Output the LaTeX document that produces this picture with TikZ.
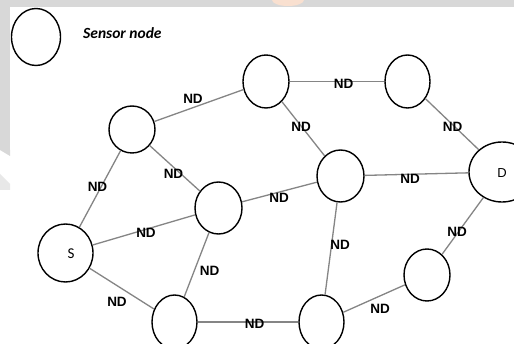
\documentclass[tikz,border=0pt]{standalone}
\usepackage{fontspec}
\setmainfont{Liberation Sans}
\newfontfamily\carlito{Carlito}
\usetikzlibrary{shapes.geometric}
\definecolor{edgegray}{HTML}{858585}
\definecolor{bandgray}{HTML}{D8D8D8}
\definecolor{peach}{HTML}{F9E0D0}
\begin{document}
\begin{tikzpicture}[x=1pt,y=-1pt,
  sensor/.style={draw=black, line width=1.4pt, ellipse, fill=white, inner sep=0pt},
  link/.style={draw=edgegray, line width=1.3pt},
  ndlabel/.style={font=\fontsize{13.5}{14}\selectfont\bfseries, inner sep=0pt, text=black}]
\useasboundingbox (0,0) rectangle (514,344);
\fill[white] (0,0) rectangle (514,344);
% background artefacts
\fill[bandgray] (0,0) rectangle (514,7.5);
\fill[bandgray] (0,0) rectangle (10,150);
\fill[bandgray] (0,150) -- (10,150) -- (10,156) -- cycle;
\fill[bandgray!60] (0,174) -- (10,184) -- (10,190) -- (0,190) -- cycle;
\begin{scope}
\clip (0,0) rectangle (514,7.5);
\fill[peach] (288,0) ellipse [x radius=16, y radius=6];
\end{scope}

% legend
\node[sensor, minimum width=49pt, minimum height=57pt] (leg) at (36,37) {};
\node[font=\carlito\fontsize{15.5}{16}\selectfont\bfseries\itshape, anchor=west, inner sep=0pt] (legtext) at (83,33) {Sensor node};

% nodes
\node[sensor, minimum width=55pt, minimum height=58pt] (S) at (65.5,253) {};
\node[font=\carlito\fontsize{15}{16}\selectfont, inner sep=0pt] (Slab) at (71,254) {S};
\node[sensor, minimum width=46pt, minimum height=47pt] (A) at (132,129.5) {};
\node[sensor, minimum width=46pt, minimum height=53pt] (B) at (266,81.5) {};
\node[sensor, minimum width=45pt, minimum height=53pt] (C) at (407.5,81.5) {};
\node[sensor, minimum width=66pt, minimum height=60pt] (D) at (502,172) {};
\node[font=\fontsize{13}{14}\selectfont, inner sep=0pt] (Dlab) at (502,173) {D};
\node[sensor, minimum width=47pt, minimum height=52pt] (E) at (340.5,176) {};
\node[sensor, minimum width=47pt, minimum height=52pt] (F) at (218.5,208) {};
\node[sensor, minimum width=45pt, minimum height=54pt] (G) at (174.5,322) {};
\node[sensor, minimum width=45pt, minimum height=54pt] (H) at (321.5,322) {};
\node[sensor, minimum width=46pt, minimum height=52pt] (I) at (427,275) {};

% connectors
\draw[link] (S) -- (A);
\draw[link] (A) -- (B);
\draw[link] (A) -- (F);
\draw[link] (S) -- (F);
\draw[link] (S) -- (G);
\draw[link] (F) -- (G);
\draw[link] (F) -- (E);
\draw[link] (B) -- (E);
\draw[link] (B) -- (C);
\draw[link] (C) -- (D);
\draw[link] (E) -- (D);
\draw[link] (E) -- (H);
\draw[link] (D) -- (I);
\draw[link] (G) -- (H);
\draw[link] (H) -- (I);

% labels
\node[ndlabel] (l1) at (97.5,187) {ND};
\node[ndlabel] (l2) at (193,99) {ND};
\node[ndlabel] (l3) at (173.5,174) {ND};
\node[ndlabel] (l4) at (146,233) {ND};
\node[ndlabel] (l5) at (117,302) {ND};
\node[ndlabel] (l6) at (209.5,271) {ND};
\node[ndlabel] (l7) at (279,198) {ND};
\node[ndlabel] (l8) at (301,127) {ND};
\node[ndlabel] (l9) at (343.5,84) {ND};
\node[ndlabel] (l10) at (452.5,127) {ND};
\node[ndlabel] (l11) at (410,178.5) {ND};
\node[ndlabel] (l12) at (340,245) {ND};
\node[ndlabel] (l13) at (457,232) {ND};
\node[ndlabel] (l14) at (254.5,323.5) {ND};
\node[ndlabel] (l15) at (380,309) {ND};
\end{tikzpicture}
\end{document}
